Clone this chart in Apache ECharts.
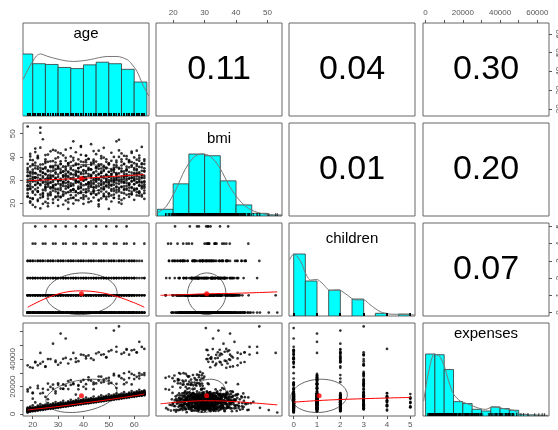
<!DOCTYPE html>
<html><head><meta charset="utf-8">
<script src="https://cdn.jsdelivr.net/npm/echarts@6/dist/echarts.min.js"></script>
<style>html,body{margin:0;padding:0;background:#fff}#c{width:558px;height:430px}</style>
</head><body><div id="c"></div>
<script>
// ---------------- data ----------------
const varNames = ['age', 'bmi', 'children', 'expenses'];
const corrPairs = [[0,1],[0,2],[0,3],[1,2],[1,3],[2,3]];
const corrValues = [0.11, 0.04, 0.30, 0.01, 0.20, 0.07];
const corrLabels = ['0.11', '0.04', '0.30', '0.01', '0.20', '0.07'];
const varMeans = [39.21, 30.67, 1.09, 13270];
const varSds = [14.05, 6.10, 1.21, 12110];

const axisMin = [16.16, 14.55, -0.2, -1384];
const axisMax = [65.84, 54.61, 5.2, 66276];

const ageTicks = [20, 30, 40, 50, 60];
const bmiTicks = [20, 30, 40, 50];
const childTicks = [0, 1, 2, 3, 4, 5];
const expTicks = [0, 10000, 20000, 30000, 40000, 50000, 60000];
const expTopLabels = [0, 20000, 40000, 60000];
const expLeftLabels = [0, 20000, 40000];

const ageBreaks = [15, 20, 25, 30, 35, 40, 45, 50, 55, 60, 65];
const ageCounts = [166, 140, 138, 130, 127, 137, 144, 140, 125, 91];
const bmiBreaks = [15, 20, 25, 30, 35, 40, 45, 50, 55];
const bmiCounts = [43, 206, 397, 386, 225, 71, 17, 6];
const childBreaks = [0, 0.5, 1, 1.5, 2, 2.5, 3, 3.5, 4, 4.5, 5];
const childCounts = [574, 324, 0, 240, 0, 157, 0, 25, 0, 18];
const expBreaks = [0, 5000, 10000, 15000, 20000, 25000, 30000, 35000, 40000, 45000, 50000, 55000, 60000, 65000];
const expCounts = [259, 256, 194, 60, 52, 28, 21, 38, 31, 24, 7, 4, 3];

const ageDensX = [16.2, 18, 20, 21.5, 23, 26, 29.6, 33, 36.1, 39.5, 42.7, 46, 49.3, 53.2, 57.2, 59, 61.1, 63.7, 65.8];
const ageDensY = [0.59, 0.74, 0.88, 0.97, 1.0, 0.96, 0.92, 0.89, 0.88, 0.89, 0.91, 0.94, 0.96, 0.96, 0.91, 0.84, 0.72, 0.48, 0.32];
const bmiDensX = [14.7, 17.7, 20.8, 23.8, 26.8, 29.3, 31.9, 34.9, 37.9, 41, 44, 48, 52, 54.6];
const bmiDensY = [0.04, 0.15, 0.42, 0.75, 0.96, 1.0, 0.96, 0.77, 0.48, 0.26, 0.12, 0.04, 0.016, 0.01];
const childDensX = [-0.17, 0.0, 0.3, 0.51, 0.72, 0.98, 1.22, 1.58, 1.93, 2.29, 2.64, 3.0, 3.28, 3.71, 4.13, 4.56, 5.2];
const childDensY = [0.91, 1.0, 0.88, 0.69, 0.58, 0.59, 0.53, 0.41, 0.42, 0.34, 0.26, 0.26, 0.18, 0.07, 0.03, 0.027, 0.016];
const expDensX = [-1000, 1700, 4800, 7600, 10100, 12400, 15100, 18700, 22300, 27700, 32200, 35800, 39400, 43900, 47500, 51000, 58200, 66000];
const expDensY = [0.24, 0.72, 1.0, 0.96, 0.80, 0.56, 0.35, 0.24, 0.20, 0.134, 0.107, 0.144, 0.134, 0.107, 0.09, 0.027, 0.016, 0.01];

const ageBmiLoX = [18, 30, 39, 50, 64];
const ageBmiLoY = [29.8, 30.3, 30.7, 31.5, 32.4];
const ageChildLoX = [18, 25.3, 32.2, 38.8, 46.7, 53.2, 59.8, 64];
const ageChildLoY = [0.31, 0.83, 1.16, 1.26, 1.16, 0.93, 0.58, 0.31];
const ageExpLoX = [18, 30, 40, 50, 64];
const ageExpLoY = [3000, 5500, 8000, 10500, 14500];
const bmiChildLoX = [16, 25, 30.7, 40, 53.1];
const bmiChildLoY = [1.0, 1.05, 1.09, 1.12, 1.2];
const bmiExpLoX = [16, 25, 31, 40, 53.1];
const bmiExpLoY = [7500, 9300, 9700, 9000, 6700];
const childExpLoX = [0, 1, 2, 3, 4, 5];
const childExpLoY = [8700, 9800, 10600, 11200, 11700, 12100];

// observations (one entry per row, two blocks of 8 rows per age)
const ageVals = [
18,18,18,18,18,18,18,18, 19,19,19,19,19,19,19,19, 20,20,20,20,20,20,20,20,
21,21,21,21,21,21,21,21, 22,22,22,22,22,22,22,22, 23,23,23,23,23,23,23,23,
24,24,24,24,24,24,24,24, 25,25,25,25,25,25,25,25, 26,26,26,26,26,26,26,26,
27,27,27,27,27,27,27,27, 28,28,28,28,28,28,28,28, 29,29,29,29,29,29,29,29,
30,30,30,30,30,30,30,30, 31,31,31,31,31,31,31,31, 32,32,32,32,32,32,32,32,
33,33,33,33,33,33,33,33, 34,34,34,34,34,34,34,34, 35,35,35,35,35,35,35,35,
36,36,36,36,36,36,36,36, 37,37,37,37,37,37,37,37, 38,38,38,38,38,38,38,38,
39,39,39,39,39,39,39,39, 40,40,40,40,40,40,40,40, 41,41,41,41,41,41,41,41,
42,42,42,42,42,42,42,42, 43,43,43,43,43,43,43,43, 44,44,44,44,44,44,44,44,
45,45,45,45,45,45,45,45, 46,46,46,46,46,46,46,46, 47,47,47,47,47,47,47,47,
48,48,48,48,48,48,48,48, 49,49,49,49,49,49,49,49, 50,50,50,50,50,50,50,50,
51,51,51,51,51,51,51,51, 52,52,52,52,52,52,52,52, 53,53,53,53,53,53,53,53,
54,54,54,54,54,54,54,54, 55,55,55,55,55,55,55,55, 56,56,56,56,56,56,56,56,
57,57,57,57,57,57,57,57, 58,58,58,58,58,58,58,58, 59,59,59,59,59,59,59,59,
60,60,60,60,60,60,60,60, 61,61,61,61,61,61,61,61, 62,62,62,62,62,62,62,62,
63,63,63,63,63,63,63,63, 64,64,64,64,64,64,64,64,
18,18,18,18,18,18,18,18, 19,19,19,19,19,19,19,19, 20,20,20,20,20,20,20,20,
21,21,21,21,21,21,21,21, 22,22,22,22,22,22,22,22, 23,23,23,23,23,23,23,23,
24,24,24,24,24,24,24,24, 25,25,25,25,25,25,25,25, 26,26,26,26,26,26,26,26,
27,27,27,27,27,27,27,27, 28,28,28,28,28,28,28,28, 29,29,29,29,29,29,29,29,
30,30,30,30,30,30,30,30, 31,31,31,31,31,31,31,31, 32,32,32,32,32,32,32,32,
33,33,33,33,33,33,33,33, 34,34,34,34,34,34,34,34, 35,35,35,35,35,35,35,35,
36,36,36,36,36,36,36,36, 37,37,37,37,37,37,37,37, 38,38,38,38,38,38,38,38,
39,39,39,39,39,39,39,39, 40,40,40,40,40,40,40,40, 41,41,41,41,41,41,41,41,
42,42,42,42,42,42,42,42, 43,43,43,43,43,43,43,43, 44,44,44,44,44,44,44,44,
45,45,45,45,45,45,45,45, 46,46,46,46,46,46,46,46, 47,47,47,47,47,47,47,47,
48,48,48,48,48,48,48,48, 49,49,49,49,49,49,49,49, 50,50,50,50,50,50,50,50,
51,51,51,51,51,51,51,51, 52,52,52,52,52,52,52,52, 53,53,53,53,53,53,53,53,
54,54,54,54,54,54,54,54, 55,55,55,55,55,55,55,55, 56,56,56,56,56,56,56,56,
57,57,57,57,57,57,57,57, 58,58,58,58,58,58,58,58, 59,59,59,59,59,59,59,59,
60,60,60,60,60,60,60,60, 61,61,61,61,61,61,61,61, 62,62,62,62,62,62,62,62,
63,63,63,63,63,63,63,63, 64,64,64,64,64,64,64,64
];
const bmiVals = [
24.3,31.9,53.1,35.2,22.8,30.1,33.4,27.6, 38.7,27.4,33.6,20.9,29.5,41.3,22.3,26.1,
32.8,36.4,25.2,30.7,19.3,34.5,36.9,29.4, 28.0,43.6,23.7,31.2,37.5,27.9,31.2,33.0,
21.6,29.8,39.9,26.7,35.8,24.9,40.5,25.1, 32.2,50.4,17.8,30.4,28.3,34.1,52.6,22.4,
31.6,25.8,33.1,28.9,23.2,36.8,34.8,19.8, 29.2,40.8,26.4,32.5,20.6,35.0,38.1,27.1,
30.9,24.1,37.9,22.0,34.2,28.7,30.6,28.2, 33.9,26.9,42.4,29.0,23.5,31.5,24.0,35.6,
27.3,32.0,20.2,38.2,30.0,25.5,36.0,26.8, 34.7,28.1,22.9,39.3,31.0,26.2,42.7,30.3,
36.1,24.6,32.4,18.9,29.6,41.9,35.5,21.5, 27.7,33.3,25.9,30.5,37.0,22.6,29.9,38.1,
31.3,28.5,35.9,23.9,33.8,29.3,32.1,23.3, 26.3,39.6,30.2,21.2,34.9,28.8,32.7,43.1,
29.4,24.8,33.7,37.2,27.0,31.8,37.3,17.6, 35.4,22.2,30.6,27.5,40.2,25.6,27.6,32.9,
28.4,34.3,19.9,31.1,26.0,38.5,46.7,22.3, 32.3,23.4,36.6,29.7,25.3,42.0,33.4,30.0,
27.2,31.7,21.3,35.1,29.1,33.5,36.9,29.4, 24.5,30.8,38.0,33.2,26.6,44.7,25.1,28.6,
34.0,27.8,22.7,31.4,36.2,29.9,31.2,19.8, 30.3,37.7,25.0,33.0,28.2,40.6,40.5,23.1,
32.6,26.5,35.3,20.5,29.0,39.1,34.8,28.2, 28.7,34.6,24.2,31.9,37.4,27.1,24.0,45.5,
25.7,30.0,38.8,22.5,33.4,28.9,38.1,26.8, 35.7,29.3,26.8,41.2,31.2,23.6,30.4,33.8,
27.4,32.7,19.6,36.0,30.2,24.4,42.7,21.5, 33.1,28.3,39.4,25.1,31.6,36.8,29.9,22.1,
30.9,26.0,34.4,28.4,43.9,23.0,35.5,23.3, 29.6,35.0,21.8,32.4,27.6,37.9,32.1,30.7,
24.0,31.5,36.7,27.9,33.6,29.2,37.3,17.6, 38.3,25.4,30.1,34.8,20.8,28.0,27.6,32.5,
29.8,35.4,26.3,40.0,31.0,23.8,34.4,22.3, 27.0,33.0,37.6,24.7,30.5,28.6,46.7,32.2,
31.2,25.9,42.8,29.5,34.9,22.0,47.4,25.1, 30.4,36.3,27.2,33.9,21.4,38.9,19.8,29.0,
26.2,32.8,28.8,37.0,24.3,31.3,40.5,29.4, 34.2,29.9,23.7,40.3,31.9,27.5,34.8,35.8,
28.1,33.5,25.5,38.6,30.6,22.8,38.1,26.8, 32.0,27.0,36.4,29.7,41.7,24.9,24.0,31.0,
30.1,25.6,35.2,28.3,33.1,39.8,30.6,21.5, 29.1,36.9,26.1,32.6,23.4,34.7,42.7,30.5,
27.8,33.3,38.4,24.6,31.4,29.6,39.5,23.3, 35.5,28.9,32.3,26.4,37.2,30.9,27.6,22.9,
31.8,26.7,34.0,29.2,39.0,24.4,36.9,28.2,
29.1,34.4,23.0,31.7,27.6,37.0,25.8,26.3, 32.9,20.3,30.6,35.9,28.4,40.2,26.5,31.8,
33.5,22.1,30.0,38.6,27.0,31.4,24.6,21.9, 36.3,29.5,42.1,33.0,26.0,30.9,18.4,35.1,
34.8,28.8,39.4,25.3,32.3,21.0,31.1,28.6, 44.0,27.8,35.3,23.8,30.2,29.9,36.7,33.7,
24.0,33.2,47.6,29.4,34.9,22.7,31.0,24.5, 28.1,37.4,25.6,32.7,30.4,26.9,35.6,39.0,
31.9,23.3,29.8,41.0,27.2,33.8,20.0,18.7, 30.5,36.0,26.4,32.1,24.8,38.1,28.9,30.9,
34.1,21.7,29.2,35.4,27.9,31.6,43.0,27.1, 25.1,32.8,28.0,37.6,22.6,30.7,33.4,36.4,
29.6,26.2,39.8,31.3,24.2,35.0,28.5,23.0, 33.1,28.3,22.9,36.9,30.1,26.7,34.5,41.5,
27.5,40.7,31.8,25.0,33.6,19.5,29.3,29.1, 35.8,30.3,24.4,32.0,38.3,27.4,31.5,34.2,
26.8,33.3,29.0,21.8,36.5,31.2,28.0,20.4, 30.8,25.4,43.8,34.7,28.6,32.5,23.5,37.8,
32.4,27.7,36.2,30.3,22.5,39.6,26.1,25.7, 28.9,34.0,24.9,31.9,37.1,29.4,21.4,32.6,
33.7,29.2,38.9,26.4,31.0,35.2,24.3,26.3, 27.1,32.6,30.0,22.3,35.7,28.1,40.9,44.3,
31.1,25.9,34.3,29.7,37.8,23.6,32.8,21.9, 26.0,30.4,33.9,28.2,24.7,36.1,31.3,38.6,
34.4,29.0,22.0,39.2,27.3,31.7,25.5,28.6, 30.9,36.6,27.7,32.3,20.9,34.6,29.6,31.8,
28.3,33.0,25.2,37.3,30.6,42.5,26.9,24.5, 32.1,23.9,29.8,35.5,27.6,31.0,38.0,35.1,
25.6,30.7,34.9,28.5,32.4,21.2,36.8,18.7, 29.3,35.0,26.6,31.2,40.4,27.9,33.1,33.7,
36.2,24.1,31.6,29.0,33.9,26.3,39.7,27.1, 27.5,32.2,22.8,30.3,35.4,29.1,25.0,39.0,
31.4,28.7,37.0,24.3,33.5,30.0,26.8,23.0, 34.0,26.1,29.5,41.8,31.9,23.4,32.7,30.9,
28.0,33.4,25.3,36.5,30.2,22.4,34.7,29.1, 32.5,27.2,38.4,29.9,25.8,35.6,31.1,36.4,
30.1,35.3,23.2,32.9,28.4,40.0,26.7,20.4, 29.7,24.6,33.6,31.5,37.9,27.0,35.0,41.5,
33.8,30.5,27.3,22.2,36.9,29.2,31.8,25.7, 26.4,31.6,39.1,28.8,34.3,25.9,30.6,32.6,
35.5,27.9,32.0,24.0,30.8,37.7,28.4,28.6, 31.0,26.6,35.8,29.4,42.3,33.2,23.9,37.8,
28.2,34.5,25.7,31.3,37.3,29.8,32.5,26.3, 33.0,28.9,36.1,26.3,31.7,24.8,38.8,34.2,
30.4,35.7,27.6,32.8,25.2,40.6,29.0,24.5, 27.0,32.3,36.8,29.3,23.7,34.0,31.2,44.3,
29.5,25.5,33.7,30.9,38.2,27.4,35.1,21.9
];
const childVals = [
0,1,0,2,0,0,3,1, 1,0,2,0,3,0,1,0, 0,2,1,0,4,0,2,3, 2,0,0,1,5,1,0,3,
0,1,0,2,0,0,3,1, 1,0,2,0,3,0,1,0, 0,2,1,0,4,0,2,3, 2,0,0,1,5,1,0,3,
0,1,0,2,0,0,3,1, 1,0,2,0,3,0,1,0, 0,2,1,0,4,0,2,3, 2,0,0,1,5,1,0,3,
0,1,0,2,0,0,3,1, 1,0,2,0,3,0,1,1, 0,2,1,0,4,0,2,3, 2,0,0,1,5,1,0,3,
0,1,0,2,0,0,3,1, 1,0,2,0,3,0,1,0, 0,2,1,0,4,0,2,3, 2,0,0,1,5,1,0,3,
0,1,0,2,0,0,3,1, 1,0,2,0,3,0,1,0, 0,2,1,0,4,0,2,3, 2,0,0,1,5,1,0,3,
0,1,0,2,0,0,3,1, 1,0,2,0,3,0,1,0, 0,2,1,0,4,0,2,3, 2,0,0,1,5,1,0,3,
0,1,0,2,0,0,3,1, 1,0,2,0,3,0,1,0, 0,2,1,0,4,0,3,2, 2,0,0,1,5,1,0,3,
0,1,0,2,0,3,0,1, 1,0,2,0,3,0,1,0, 0,2,1,0,4,0,2,3, 2,0,0,1,5,1,0,3,
0,1,0,2,0,0,3,1, 1,0,2,0,3,0,1,0, 0,2,1,0,4,0,2,3, 2,0,0,1,5,1,0,3,
0,1,0,2,0,0,3,1, 1,0,2,0,3,0,1,0, 0,2,1,0,4,0,2,3,
0,0,1,0,2,1,0,3, 1,0,0,3,0,2,1,0, 0,2,0,1,0,0,3,1, 2,1,0,0,1,0,4,2,
0,0,1,0,2,1,0,3, 1,0,0,3,0,2,1,0, 0,2,0,1,0,0,3,1, 2,1,0,0,1,0,4,2,
0,0,1,0,2,1,0,3, 1,0,0,3,0,2,1,0, 0,2,0,1,0,0,3,1, 2,1,0,0,1,0,4,2,
0,0,1,0,2,1,0,3, 1,0,0,3,0,2,1,0, 0,2,0,1,0,0,3,1, 2,1,0,0,1,0,4,2,
0,0,1,0,2,1,0,3, 1,0,0,3,0,2,1,0, 0,2,0,1,0,0,3,1, 2,1,0,0,1,0,4,2,
0,0,1,0,2,1,0,3, 1,0,0,3,0,2,1,0, 0,2,0,1,0,0,3,1, 2,1,0,0,1,0,4,2,
0,0,1,0,2,1,0,3, 1,0,0,3,0,2,1,0, 0,2,0,1,0,0,3,1, 2,1,0,0,1,0,4,2,
0,0,1,0,2,1,0,3, 1,0,0,3,0,2,1,0, 0,2,0,1,0,0,3,1, 2,1,0,0,1,0,4,2,
0,0,1,0,2,1,0,3, 1,0,0,3,0,2,1,0, 0,2,0,1,0,0,3,1, 2,1,0,0,1,0,4,2,
0,0,1,0,2,1,0,3, 1,0,0,3,0,2,1,0, 0,2,0,1,0,0,3,1, 2,1,0,0,1,0,4,2,
0,0,1,0,2,1,0,3, 1,0,0,3,0,2,1,0, 0,2,0,1,0,0,3,1, 2,1,0,0,1,0,4,2,
0,0,1,0,2,1,0,3, 1,0,0,3,0,2,1,0, 0,2,0,1,0,0,3,1
];
const expVals = [
1400,2100,1160,3600,4200,2400,35500,16500, 2070,2770,3570,1770,4170,3170,19300,2470,
2830,2130,3530,4630,2530,11200,33700,15600, 2200,2900,3600,4400,5000,3200,38000,4000,
2860,3560,4360,2560,4960,3960,35500,18800, 3625,2925,4325,5425,3325,15000,44500,4025,
3000,3700,4400,5200,5800,4000,38000,15400, 3655,4355,5155,3355,5755,4755,34400,4055,
4420,3720,5120,6220,4120,10800,40000,22200, 3800,4500,5200,6000,6600,4800,19800,5600,
4450,5150,5950,4150,6550,5550,51200,18500, 5215,4515,5915,7015,4915,15100,37900,5600,
4580,5280,5980,6780,7380,5580,35900,22400, 5245,5945,6745,4945,7345,6345,18600,58600,
6010,5310,6710,7810,5710,18400,40200,21600, 5375,6075,6775,7575,8175,6375,55000,7175,
6040,6740,7540,5740,8140,7140,36800,18200, 6805,6105,7505,8605,6505,21200,24800,7205,
6170,6870,7570,8370,8970,7170,44500,22300, 6835,7535,8335,6535,8935,7935,40600,7235,
7600,6900,8300,9400,7300,18000,38500,20600, 6965,7665,8365,9165,9765,7965,23600,8765,
7630,8330,9130,7330,9730,8730,43000,19900, 8395,7695,9095,10195,8095,21800,40500,8800,
7760,8460,9160,9960,10560,8760,42700,26800, 8425,9125,9925,8125,10525,9525,24300,8825,
9190,8490,9890,10990,8890,18100,39400,23000, 8555,9255,9955,10755,11355,9555,62600,10355,
9220,9920,10720,8920,11320,10320,45000,24400, 9985,9285,10685,11785,9685,22900,27200,10385,
9350,10050,10750,11550,12150,10350,43500,23400, 10015,10715,11515,9715,12115,11115,41400,10415,
10780,10080,11480,12580,10480,22200,45700,26400, 10145,10845,11545,12345,12945,11145,22700,11945,
10810,11510,12310,10510,12910,11910,60800,29300, 11575,10875,12275,13375,11275,22000,49000,11900,
10940,11640,12340,13140,13740,11940,63800,27400, 11605,12305,13105,11305,13705,12705,26100,12005,
12370,11670,13070,14170,12070,21800,44700,29700, 11735,12435,13135,13935,14535,12735,46800,13500,
12400,13100,13900,12100,14500,13500,43200,26200, 13165,12465,13865,14965,12865,21600,29200,13565,
12530,13230,13930,14730,15330,13530,46800,25500, 13195,13895,14695,12895,15295,14295,44800,13600,
13960,13260,14660,15760,13660,25900,52600,29800, 13325,14025,14725,15525,16125,14325,28700,15125,
13990,14690,15490,13690,16090,15090,47400,28400,
1850,2350,2950,3400,4000,4700,2550,18000, 2415,2915,3415,4015,4665,2315,5365,34100,
2280,3030,3780,4130,4730,3330,6430,15100, 2645,3145,3745,4195,4795,8500,3345,37600,
3210,3710,4210,4810,5460,3110,6160,20600, 3075,3825,4575,4925,5525,4125,7225,36650,
3440,3940,4540,4990,5590,6290,4140,18400, 4005,4505,5005,5605,6255,12550,6955,34700,
3870,4620,5370,5720,6320,4920,8020,17700, 4235,4735,5335,5785,6385,7085,4935,40000,
4800,5300,5800,6400,7050,4700,7750,21500, 4665,5415,6165,6515,7115,16600,8815,38870,
5030,5530,6130,6580,7180,7880,5730,21360, 5595,6095,6595,7195,7845,5495,8545,37300,
5460,6210,6960,7310,7910,6510,9610,18400, 5825,6325,6925,7375,7975,20700,6525,40850,
6390,6890,7390,7990,8640,6290,9340,23980, 6255,7005,7755,8105,8705,7305,10405,39890,
6620,7120,7720,8170,8770,9470,7320,21740, 7185,7685,8185,8785,9435,14235,10135,37930,
7050,7800,8550,8900,9500,8100,11200,21100, 7415,7915,8515,8965,9565,10265,8115,43270,
7980,8480,8980,9580,10230,7880,10930,24860, 7845,8595,9345,9695,10295,18300,11995,42100,
8210,8710,9310,9760,10360,11060,8910,24720, 8775,9275,9775,10375,11025,8675,11725,40550,
8640,9390,10140,10490,11090,9690,12790,21780, 9005,9505,10105,10555,11155,22350,9705,44090,
9570,10070,10570,11170,11820,9470,12520,27340, 9435,10185,10935,11285,11885,10485,13585,43130,
9800,10300,10900,11350,11950,12650,10500,25100, 10365,10865,11365,11965,12615,25900,13315,41170,
10230,10980,11730,12080,12680,11280,14380,24460, 10595,11095,11695,12145,12745,13445,11295,46510,
11160,11660,12160,12760,13410,11060,14110,28220, 11025,11775,12525,12875,13475,18975,15175,45350,
11390,11890,12490,12940,13540,14240,12090,28080, 11955,12455,12955,13555,14205,11855,14905,43790,
11820,12570,13320,13670,14270,12870,15970,25140, 12185,12685,13285,13735,14335,23000,12885,47330,
12750,13250,13750,14350,15000,12650,15700,30700, 12615,13365,14115,14465,15065,13665,16765,46370,
12980,13480,14080,14530,15130,15830,13680,28460, 13545,14045,14545,15145,15795,27100,16495,44950,
13410,14160,14910,15260,15860,14460,17560,27820, 13775,14275,14875,15325,15925,16625,14475,48900,
14340,14840,15340,15940,16590,14240,17290,29900
];

// ---------------- layout / style ----------------
const colLeft = [23, 156, 289, 423];
const rowTop = [23, 123, 223, 323];
const PW = 126, PH = 93;
const FONT = '"Liberation Sans", Arial, Helvetica, sans-serif';
const tickColor = '#555';

const cols = [ageVals, bmiVals, childVals, expVals];
const hists = [[ageBreaks, ageCounts], [bmiBreaks, bmiCounts], [childBreaks, childCounts], [expBreaks, expCounts]];
const dens = [[ageDensX, ageDensY], [bmiDensX, bmiDensY], [childDensX, childDensY], [expDensX, expDensY]];
const smooth = {
  '0-1': [ageBmiLoX, ageBmiLoY], '0-2': [ageChildLoX, ageChildLoY], '0-3': [ageExpLoX, ageExpLoY],
  '1-2': [bmiChildLoX, bmiChildLoY], '1-3': [bmiExpLoX, bmiExpLoY], '2-3': [childExpLoX, childExpLoY]
};
function corrOf(a, b) {
  for (let k = 0; k < corrPairs.length; k++) {
    const p = corrPairs[k];
    if ((p[0] === a && p[1] === b) || (p[0] === b && p[1] === a)) return k;
  }
  return -1;
}
const numFmt = v => String(v);
const grids = [], xAxes = [], yAxes = [], series = [], graphics = [];

function hiddenAxis(extra) {
  return Object.assign({
    type: 'value', axisLine: { show: false, onZero: false }, axisTick: { show: false },
    axisLabel: { show: false }, splitLine: { show: false }
  }, extra);
}
function shownAxis(extra, ticks, labels, rotate, margin) {
  return Object.assign({
    type: 'value', axisLine: { show: false, onZero: false },
    axisTick: { show: true, customValues: ticks, length: 3, lineStyle: { color: tickColor, width: 1 } },
    axisLabel: { show: true, customValues: labels, formatter: numFmt, fontSize: 8, color: tickColor,
      fontFamily: FONT, rotate: rotate, margin: margin },
    splitLine: { show: false }
  }, extra);
}

for (let i = 0; i < 4; i++) {
  for (let j = 0; j < 4; j++) {
    const g = i * 4 + j;
    grids.push({ left: colLeft[j], top: rowTop[i], width: PW, height: PH, show: true,
      borderColor: '#666', borderWidth: 1, containLabel: false, outerBoundsMode: 'none' });
    const xb = { gridIndex: g, min: axisMin[j], max: axisMax[j] };
    let xa;
    if (i === 3 && j === 0) xa = shownAxis(Object.assign(xb, { position: 'bottom' }), ageTicks, ageTicks, 0, 5);
    else if (i === 3 && j === 2) xa = shownAxis(Object.assign(xb, { position: 'bottom' }), childTicks, childTicks, 0, 5);
    else if (i === 0 && j === 1) xa = shownAxis(Object.assign(xb, { position: 'top' }), bmiTicks, bmiTicks, 0, 6);
    else if (i === 0 && j === 3) xa = shownAxis(Object.assign(xb, { position: 'top' }), expTicks, expTopLabels, 0, 6);
    else xa = hiddenAxis(xb);
    xAxes.push(xa);
    const yb = i === j ? { gridIndex: g, min: 0, max: 1.5 } : { gridIndex: g, min: axisMin[i], max: axisMax[i] };
    let ya;
    if (i === 1 && j === 0) ya = shownAxis(Object.assign(yb, { position: 'left' }), bmiTicks, bmiTicks, 90, 6);
    else if (i === 3 && j === 0) ya = shownAxis(Object.assign(yb, { position: 'left' }), expTicks, expLeftLabels, 90, 6);
    else if (i === 0 && j === 3) ya = shownAxis(Object.assign(yb, { position: 'right' }), ageTicks, ageTicks, 90, 6);
    else if (i === 2 && j === 3) ya = shownAxis(Object.assign(yb, { position: 'right' }), childTicks, childTicks, 90, 6);
    else ya = hiddenAxis(yb);
    yAxes.push(ya);

    if (i === j) {
      const br = hists[i][0], ct = hists[i][1];
      const mx = Math.max.apply(null, ct);
      const hdata = [];
      for (let k = 0; k < ct.length; k++) if (ct[k] > 0) hdata.push([br[k], br[k + 1], ct[k] / mx]);
      series.push({
        type: 'custom', xAxisIndex: g, yAxisIndex: g, clip: true, z: 2, data: hdata,
        renderItem: function (params, api) {
          const p0 = api.coord([api.value(0), api.value(2)]);
          const p1 = api.coord([api.value(1), 0]);
          return { type: 'rect', shape: { x: p0[0], y: p0[1], width: p1[0] - p0[0], height: p1[1] - p0[1] },
            style: { fill: '#00FFFF', stroke: '#333', lineWidth: 0.8 } };
        }
      });
      const dx = dens[i][0], dy = dens[i][1];
      series.push({ type: 'line', xAxisIndex: g, yAxisIndex: g, data: dx.map((v, k) => [v, dy[k]]),
        showSymbol: false, symbol: 'none', smooth: 0.3, clip: true, z: 3,
        lineStyle: { color: '#777', width: 1 } });
      series.push({
        type: 'custom', xAxisIndex: g, yAxisIndex: g, clip: true, z: 4,
        data: cols[i].map(v => [v]),
        renderItem: function (params, api) {
          const p = api.coord([api.value(0), 0]);
          return { type: 'line', shape: { x1: p[0], y1: p[1], x2: p[0], y2: p[1] - 3 },
            style: { stroke: '#000', lineWidth: 0.7 } };
        }
      });
      graphics.push({ type: 'text', x: colLeft[j] + PW / 2,
        y: rowTop[i] + (/[bdfhklt]/.test(varNames[i]) ? 15.5 : 11),
        style: { text: varNames[i], fontSize: 15, fontFamily: FONT, fill: '#000', align: 'center', verticalAlign: 'middle' } });
    } else if (i > j) {
      const xs = cols[j], ys = cols[i];
      const r = corrValues[corrOf(i, j)];
      const a = Math.sqrt(1 + r), b = Math.sqrt(1 - r);
      const t = (r < 0 ? -1 : 1) / Math.SQRT2;
      const ell = [];
      for (let s = 0; s <= 51; s++) {
        const ang = s * 2 * Math.PI / 51, c = Math.cos(ang), sn = Math.sin(ang);
        ell.push([t * (a * c - b * sn) * varSds[j] + varMeans[j], t * (a * c + b * sn) * varSds[i] + varMeans[i]]);
      }
      series.push({ type: 'line', xAxisIndex: g, yAxisIndex: g, data: ell, showSymbol: false, symbol: 'none',
        clip: true, z: 2, lineStyle: { color: '#666', width: 1 } });
      series.push({ type: 'scatter', xAxisIndex: g, yAxisIndex: g, data: xs.map((v, q) => [v, ys[q]]),
        symbol: 'circle', symbolSize: 2.7, itemStyle: { color: '#000' }, clip: true, z: 3 });
      const sm = smooth[j + '-' + i];
      series.push({ type: 'line', xAxisIndex: g, yAxisIndex: g, data: sm[0].map((v, q) => [v, sm[1][q]]),
        showSymbol: false, symbol: 'none', smooth: 0.4, clip: true, z: 4, lineStyle: { color: '#ff0000', width: 1 } });
      series.push({ type: 'scatter', xAxisIndex: g, yAxisIndex: g, data: [[varMeans[j], varMeans[i]]],
        symbol: 'circle', symbolSize: 5, itemStyle: { color: '#ff0000' }, z: 5 });
    } else {
      graphics.push({ type: 'text', x: colLeft[j] + PW / 2, y: rowTop[i] + PH / 2,
        style: { text: corrLabels[corrOf(i, j)], fontSize: 34, fontFamily: FONT, fill: '#000', align: 'center', verticalAlign: 'middle' } });
    }
  }
}

const chart = echarts.init(document.getElementById('c'), null, { renderer: 'canvas' });
chart.setOption({
  animation: false, backgroundColor: '#fff',
  grid: grids, xAxis: xAxes, yAxis: yAxes, series: series, graphic: graphics
});
</script></body></html>
